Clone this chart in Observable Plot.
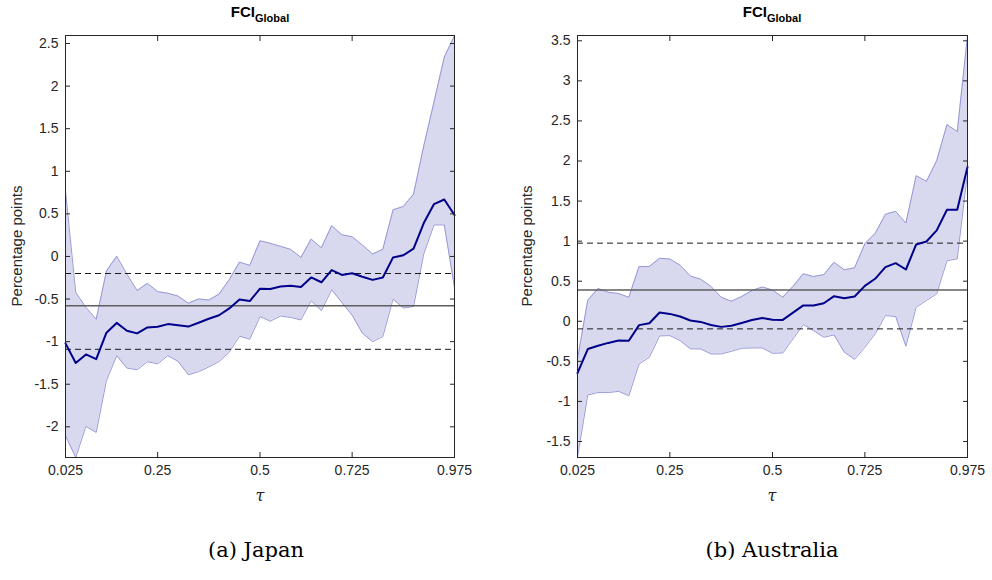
<!DOCTYPE html>
<html>
<head>
<meta charset="utf-8">
<script src="https://cdn.jsdelivr.net/npm/d3@7"></script>
<script src="https://cdn.jsdelivr.net/npm/@observablehq/plot@0.6"></script>
<style>
  html, body { margin: 0; padding: 0; background: #fff; }
  #fig { position: relative; width: 992px; height: 580px; background: #fff; overflow: hidden; }
  .abs { position: absolute; white-space: nowrap; }
  .title { font-family: 'Liberation Sans', Arial, sans-serif; font-weight: bold; font-size: 15px; color: #000; text-align: center; width: 200px; }
  .title sub { font-size: 11px; vertical-align: -5px; }
  .ylab { font-family: 'Liberation Sans', Arial, sans-serif; font-size: 15px; color: #262626; text-align: center; width: 200px; height: 20px; line-height: 20px; transform: rotate(-90deg); }
  .xlab { font-family: 'DejaVu Serif', 'Liberation Serif', serif; font-style: italic; font-size: 16px; color: #262626; text-align: center; width: 40px; }
  .cap { font-family: 'DejaVu Serif', 'Liberation Serif', serif; font-size: 21px; color: #000; text-align: center; width: 240px; }
</style>
</head>
<body>
<div id="fig">
  <div id="p1" class="abs" style="left:0;top:0"></div>
  <div id="p2" class="abs" style="left:500px;top:0"></div>
  <div class="abs title" style="left:160px;top:3px">FCI<sub>Global</sub></div>
  <div class="abs title" style="left:672px;top:3px">FCI<sub>Global</sub></div>
  <div class="abs ylab" style="left:-83px;top:236px">Percentage points</div>
  <div class="abs ylab" style="left:427px;top:236px">Percentage points</div>
  <div class="abs xlab" style="left:240px;top:486px">τ</div>
  <div class="abs xlab" style="left:752px;top:486px">τ</div>
  <div class="abs cap" style="left:136px;top:538px">(a) Japan</div>
  <div class="abs cap" style="left:652px;top:538px">(b) Australia</div>
</div>
<script>
const tau = [0.025,0.05,0.075,0.1,0.125,0.15,0.175,0.2,0.225,0.25,0.275,0.3,0.325,0.35,0.375,0.4,0.425,0.45,0.475,0.5,0.525,0.55,0.575,0.6,0.625,0.65,0.675,0.7,0.725,0.75,0.775,0.8,0.825,0.85,0.875,0.9,0.925,0.95,0.975];
const xTicks = [0.025, 0.25, 0.5, 0.725, 0.975];

// Japan
const jpMedian = [-1.02,-1.25,-1.15,-1.205,-0.895,-0.78,-0.872,-0.903,-0.833,-0.825,-0.794,-0.808,-0.823,-0.778,-0.731,-0.69,-0.61,-0.504,-0.524,-0.378,-0.383,-0.352,-0.344,-0.358,-0.246,-0.303,-0.16,-0.217,-0.197,-0.238,-0.275,-0.246,-0.011,0.014,0.092,0.392,0.615,0.669,0.486];
const jpUpper = [0.771,-0.422,-0.598,-0.737,-0.172,0.004,-0.207,-0.4,-0.315,-0.412,-0.432,-0.465,-0.549,-0.498,-0.512,-0.442,-0.272,-0.066,-0.105,0.184,0.155,0.12,0.083,-0.011,0.204,0.102,0.362,0.255,0.231,0.135,0.028,0.086,0.548,0.587,0.732,1.299,1.815,2.34,2.59];
const jpLower = [-2.104,-2.359,-1.995,-2.066,-1.459,-1.165,-1.31,-1.33,-1.236,-1.26,-1.165,-1.232,-1.389,-1.353,-1.297,-1.234,-1.123,-0.935,-0.972,-0.706,-0.76,-0.7,-0.716,-0.745,-0.52,-0.637,-0.391,-0.54,-0.69,-0.9,-1.001,-0.941,-0.5,-0.606,-0.587,0.03,0.37,0.37,-0.364];
const jpMean = [-0.58];
const jpBounds = [-0.2, -1.09];
const jpYTicks = [-2,-1.5,-1,-0.5,0,0.5,1,1.5,2,2.5];
const jpYDomain = [-2.36, 2.594];

// Australia
const auMedian = [-0.648,-0.347,-0.306,-0.27,-0.241,-0.243,-0.048,-0.025,0.109,0.092,0.059,0.009,-0.008,-0.047,-0.07,-0.056,-0.022,0.015,0.04,0.019,0.017,0.107,0.198,0.196,0.225,0.313,0.288,0.309,0.442,0.53,0.675,0.725,0.646,0.959,0.996,1.134,1.392,1.392,1.925];
const auUpper = [-0.47,0.263,0.409,0.362,0.346,0.3,0.682,0.684,0.786,0.777,0.7,0.565,0.525,0.436,0.3,0.25,0.309,0.384,0.428,0.39,0.3,0.436,0.592,0.559,0.582,0.736,0.642,0.667,0.967,1.096,1.334,1.372,1.225,1.817,1.746,2.005,2.455,2.367,3.56];
const auLower = [-1.7,-0.92,-0.89,-0.89,-0.875,-0.93,-0.533,-0.45,-0.183,-0.179,-0.241,-0.345,-0.345,-0.408,-0.408,-0.375,-0.337,-0.333,-0.333,-0.4,-0.396,-0.22,-0.041,-0.116,-0.2,-0.171,-0.387,-0.475,-0.325,-0.158,0.071,0.059,-0.312,0.175,0.259,0.342,0.755,0.779,1.85];
const auMean = [0.39];
const auBounds = [0.975, -0.095];
const auYTicks = [-1.5,-1,-0.5,0,0.5,1,1.5,2,2.5,3,3.5];
const auYDomain = [-1.7, 3.566];

const axisColor = "#262626";

function panel({median, lower, upper, mean, bounds, yTicks, yDomain, width, marginLeft, marginRight}) {
  const data = tau.map((t, i) => ({tau: t, median: median[i], lower: lower[i], upper: upper[i]}));
  const fmt = d => String(d);
  return Plot.plot({
    width, height: 500,
    marginTop: 35, marginBottom: 43, marginLeft, marginRight,
    style: {fontFamily: "'Liberation Sans', Arial, sans-serif", fontSize: "14px", color: axisColor, background: "transparent", overflow: "visible"},
    x: {domain: [0.025, 0.975], label: null},
    y: {domain: yDomain, label: null},
    marks: [
      Plot.areaY(data, {x: "tau", y1: "lower", y2: "upper", fill: "#d8d9ee"}),
      Plot.line(data, {x: "tau", y: "upper", stroke: "#8d90d2", strokeWidth: 0.9}),
      Plot.line(data, {x: "tau", y: "lower", stroke: "#8d90d2", strokeWidth: 0.9}),
      Plot.ruleY(mean, {stroke: "#5e5e5e", strokeWidth: 1.5}),
      Plot.ruleY(bounds, {stroke: "#1a1a1a", strokeWidth: 1, strokeDasharray: "6,4"}),
      Plot.line(data, {x: "tau", y: "median", stroke: "#00008b", strokeWidth: 2}),
      Plot.frame({stroke: axisColor}),
      Plot.axisX({ticks: xTicks, anchor: "bottom", tickSize: 0, tickPadding: 8, tickFormat: fmt, label: null, fill: axisColor}),
      Plot.axisX({ticks: xTicks, anchor: "bottom", tickSize: -5, fill: "none", label: null, stroke: axisColor}),
      Plot.axisX({ticks: xTicks, anchor: "top", tickSize: -5, fill: "none", label: null, stroke: axisColor}),
      Plot.axisY({ticks: yTicks, anchor: "left", tickSize: 0, tickPadding: 7, tickFormat: fmt, label: null, fill: axisColor}),
      Plot.axisY({ticks: yTicks, anchor: "left", tickSize: -5, fill: "none", label: null, stroke: axisColor}),
      Plot.axisY({ticks: yTicks, anchor: "right", tickSize: -5, fill: "none", label: null, stroke: axisColor})
    ]
  });
}

document.getElementById("p1").append(panel({
  median: jpMedian, lower: jpLower, upper: jpUpper, mean: jpMean, bounds: jpBounds,
  yTicks: jpYTicks, yDomain: jpYDomain, width: 480, marginLeft: 65, marginRight: 26
}));
document.getElementById("p2").append(panel({
  median: auMedian, lower: auLower, upper: auUpper, mean: auMean, bounds: auBounds,
  yTicks: auYTicks, yDomain: auYDomain, width: 492, marginLeft: 77, marginRight: 25
}));
</script>
</body>
</html>
